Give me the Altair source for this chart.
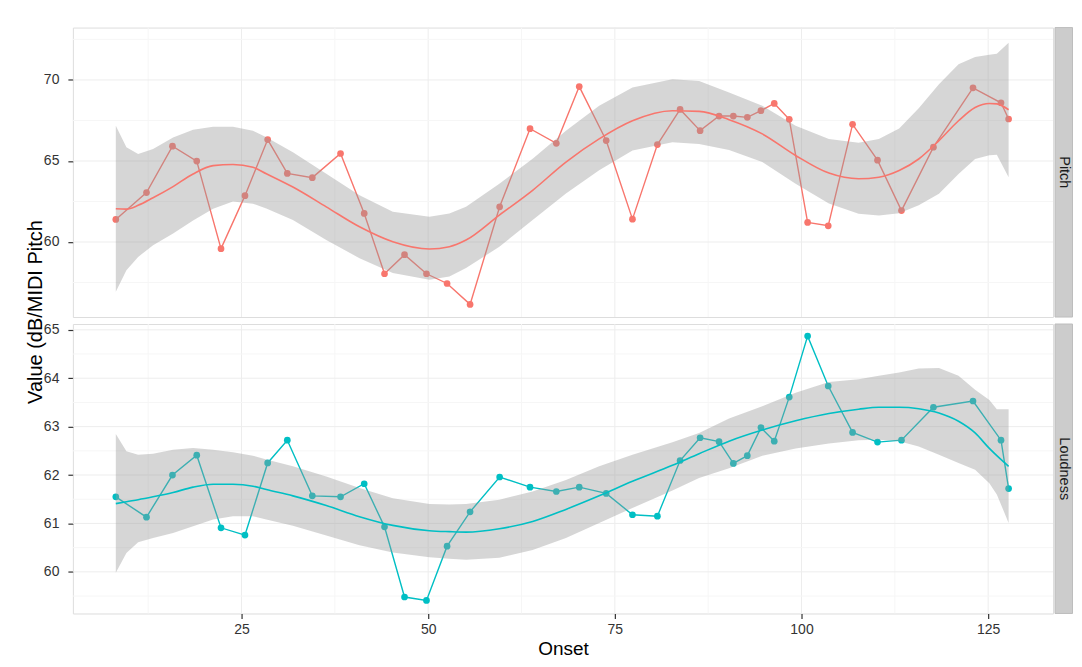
import altair as alt
import pandas as pd

# ---- data ----
onset = [8.16, 12.27, 15.75, 19.00, 22.25, 25.46, 28.50, 31.13, 34.48, 38.26,
         41.43, 44.15, 46.83, 49.77, 52.53, 55.61, 59.57, 63.64, 67.16, 70.23,
         73.84, 77.36, 80.70, 83.74, 86.42, 88.96, 90.87, 92.74, 94.57, 96.35,
         98.36, 100.82, 103.58, 106.84, 110.18, 113.39, 117.67, 122.97, 126.72, 127.74]

pitch = [61.39, 63.05, 65.91, 64.99, 59.59, 62.86, 66.32, 64.23, 63.97, 65.46,
         61.76, 58.04, 59.22, 58.04, 57.44, 56.15, 62.17, 66.99, 66.09, 69.59,
         66.26, 61.41, 66.01, 68.18, 66.87, 67.77, 67.77, 67.69, 68.10, 68.55,
         67.57, 61.21, 61.00, 67.26, 65.05, 61.94, 65.85, 69.51, 68.59, 67.59]

loud = [61.55, 61.13, 62.00, 62.41, 60.91, 60.76, 62.25, 62.72, 61.57, 61.55,
        61.82, 60.93, 59.48, 59.41, 60.53, 61.24, 61.96, 61.75, 61.66, 61.75,
        61.62, 61.18, 61.15, 62.30, 62.77, 62.69, 62.24, 62.40, 62.98, 62.70,
        63.61, 64.87, 63.84, 62.88, 62.68, 62.72, 63.40, 63.53, 62.72, 61.72]

band_x = [8.16, 9.58, 11.15, 13.15, 15.83, 18.51, 21.19, 23.85, 26.53, 28.32,
          31.88, 36.35, 40.80, 45.26, 50.17, 52.84, 55.07, 59.53, 63.99, 68.45,
          72.90, 77.36, 82.71, 86.28, 90.30, 94.75, 99.21, 103.67, 107.65, 110.36,
          113.08, 115.70, 118.41, 121.03, 123.25, 125.16, 126.16, 127.74]

pitch_hi = [67.17, 65.84, 65.43, 65.74, 66.45, 66.93, 67.11, 67.11, 66.87, 66.46,
            65.54, 64.21, 62.88, 61.86, 61.55, 61.76, 62.17, 63.60, 65.13, 66.87,
            68.40, 69.53, 70.04, 69.94, 69.22, 68.40, 67.18, 66.36, 66.12, 66.35,
            67.00, 68.25, 69.74, 70.96, 71.41, 71.55, 71.62, 72.29]
pitch_lo = [56.93, 58.26, 59.08, 59.80, 60.52, 61.33, 62.05, 62.50, 62.36, 62.07,
            61.35, 60.12, 59.00, 58.08, 57.67, 57.87, 58.39, 59.71, 61.35, 62.99,
            64.42, 65.64, 66.15, 66.05, 65.68, 64.93, 63.60, 62.37, 61.75, 61.64,
            61.78, 62.26, 62.97, 64.20, 65.12, 65.35, 65.39, 63.99]
pitch_fit = [62.05, 62.03, 62.26, 62.73, 63.42, 64.20, 64.71, 64.78, 64.61, 64.21,
             63.39, 62.17, 60.94, 60.02, 59.57, 59.71, 60.12, 61.66, 63.19, 64.93,
             66.36, 67.48, 68.10, 68.06, 67.55, 66.67, 65.34, 64.25, 63.90, 64.00,
             64.41, 65.12, 66.25, 67.48, 68.30, 68.55, 68.52, 68.16]

loud_hi = [62.85, 62.49, 62.42, 62.44, 62.52, 62.56, 62.52, 62.47, 62.40, 62.32,
           62.18, 61.97, 61.73, 61.52, 61.40, 61.39, 61.40, 61.49, 61.66, 61.90,
           62.18, 62.42, 62.68, 62.87, 63.17, 63.42, 63.70, 63.92, 63.98, 64.05,
           64.12, 64.20, 64.21, 64.05, 63.76, 63.55, 63.36, 63.36]
loud_lo = [59.98, 60.39, 60.61, 60.70, 60.80, 60.94, 61.08, 61.15, 61.15, 61.08,
           60.95, 60.75, 60.55, 60.40, 60.30, 60.27, 60.25, 60.29, 60.45, 60.70,
           61.01, 61.32, 61.68, 61.94, 62.14, 62.40, 62.55, 62.65, 62.72, 62.73,
           62.70, 62.59, 62.42, 62.25, 62.11, 61.83, 61.60, 61.01]
loud_fit = [61.41, 61.45, 61.49, 61.55, 61.64, 61.75, 61.81, 61.81, 61.77, 61.70,
            61.57, 61.37, 61.14, 60.96, 60.85, 60.83, 60.82, 60.89, 61.04, 61.29,
            61.57, 61.87, 62.20, 62.44, 62.70, 62.93, 63.12, 63.27, 63.36, 63.40,
            63.40, 63.37, 63.28, 63.11, 62.87, 62.55, 62.40, 62.18]

x_domain = [2.41, 133.69]
x_major = [25, 50, 75, 100, 125]
x_minor = [12.5, 37.5, 62.5, 87.5, 112.5]

pitch_domain = [55.37, 73.23]
pitch_major = [60, 65, 70]
pitch_minor = [57.5, 62.5, 67.5, 72.5]

loud_domain = [59.14, 65.12]
loud_major = [60, 61, 62, 63, 64, 65]
loud_minor = [59.5, 60.5, 61.5, 62.5, 63.5, 64.5]

W = 982
H = 290
FONT = "Liberation Sans"


def panel(name, color, values, hi, lo, fit, ydom, ymaj, ymin, bottom, ytitle):
    pts = pd.DataFrame({"Onset": onset, "Value": values})
    band = pd.DataFrame({"Onset": band_x, "lo": lo, "hi": hi, "fit": fit})
    xscale = alt.Scale(domain=x_domain, nice=False, zero=False)
    yscale = alt.Scale(domain=ydom, nice=False, zero=False)
    if bottom:
        xaxis = alt.Axis(values=x_major, grid=False, domain=False, tickColor="#333333",
                         tickSize=5, tickWidth=1.2, labelFontSize=14, labelColor="#333333",
                         labelPadding=4, title="Onset", titleFontSize=19,
                         titleFontWeight="normal", titleColor="#000000", titlePadding=3,
                         labelFont=FONT, titleFont=FONT)
    else:
        xaxis = None
    yaxis = alt.Axis(values=ymaj, grid=False, domain=False, tickColor="#333333",
                     tickSize=5, tickWidth=1.2, labelFontSize=14, labelColor="#333333",
                     labelPadding=9, title=None, labelFont=FONT)

    gx_minor = alt.Chart(pd.DataFrame({"g": x_minor})).mark_rule(
        color="#f6f6f6", strokeWidth=1).encode(x=alt.X("g:Q", scale=xscale, axis=xaxis))
    gx_major = alt.Chart(pd.DataFrame({"g": x_major})).mark_rule(
        color="#ededed", strokeWidth=1).encode(x=alt.X("g:Q", scale=xscale))
    gy_minor = alt.Chart(pd.DataFrame({"g": ymin})).mark_rule(
        color="#f6f6f6", strokeWidth=1).encode(y=alt.Y("g:Q", scale=yscale, axis=yaxis))
    gy_major = alt.Chart(pd.DataFrame({"g": ymaj})).mark_rule(
        color="#ededed", strokeWidth=1).encode(y=alt.Y("g:Q", scale=yscale))

    line = alt.Chart(pts).mark_line(color=color, strokeWidth=1.4, clip=True).encode(
        x=alt.X("Onset:Q", scale=xscale), y=alt.Y("Value:Q", scale=yscale))
    dots = alt.Chart(pts).mark_circle(color=color, size=45, opacity=1, clip=True).encode(
        x=alt.X("Onset:Q", scale=xscale), y=alt.Y("Value:Q", scale=yscale))
    ribbon = alt.Chart(band).mark_area(color="#999999", opacity=0.4, clip=True).encode(
        x=alt.X("Onset:Q", scale=xscale), y=alt.Y("lo:Q", scale=yscale), y2="hi:Q")
    smooth = alt.Chart(band).mark_line(color=color, strokeWidth=1.6, clip=True,
                                       interpolate="monotone").encode(
        x=alt.X("Onset:Q", scale=xscale), y=alt.Y("fit:Q", scale=yscale))

    lab = pd.DataFrame({"facet": [name]})
    strip = alt.Chart(lab).mark_rect(fill="#cccccc", stroke="#bdbdbd", strokeWidth=1).encode(
        x=alt.value(W + 2), x2=alt.value(W + 19.5), y=alt.value(0), y2=alt.value(H))
    strip_text = alt.Chart(lab).mark_text(angle=90, fontSize=14.5, font=FONT,
                                          color="#1a1a1a", baseline="middle",
                                          align="center").encode(
        x=alt.value(W + 11), y=alt.value(H / 2), text="facet:N")

    layers = [gx_minor, gx_major, gy_minor, gy_major, line, dots, ribbon, smooth,
              strip, strip_text]
    if ytitle:
        yt = alt.Chart(pd.DataFrame({"t": ["Value (dB/MIDI Pitch"]})).mark_text(
            angle=270, fontSize=20, font=FONT, color="#000000", baseline="middle",
            align="center").encode(x=alt.value(-37), y=alt.value(H - 5), text="t:N")
        layers.append(yt)
    return alt.layer(*layers).properties(width=W, height=H)


top = panel("Pitch", "#F8766D", pitch, pitch_hi, pitch_lo, pitch_fit,
            pitch_domain, pitch_major, pitch_minor, False, True)
bot = panel("Loudness", "#00BFC4", loud, loud_hi, loud_lo, loud_fit,
            loud_domain, loud_major, loud_minor, True, False)

chart = alt.vconcat(top, bot, spacing=7, bounds="flush").resolve_scale(
    y="independent", x="independent").properties(
    padding={"left": 17, "top": 18, "right": 0, "bottom": 0}
).configure_view(stroke="#b3b3b3", strokeWidth=1.5).configure(font=FONT)

chart.save("out.html", embed_options={"renderer": "svg", "actions": False})
